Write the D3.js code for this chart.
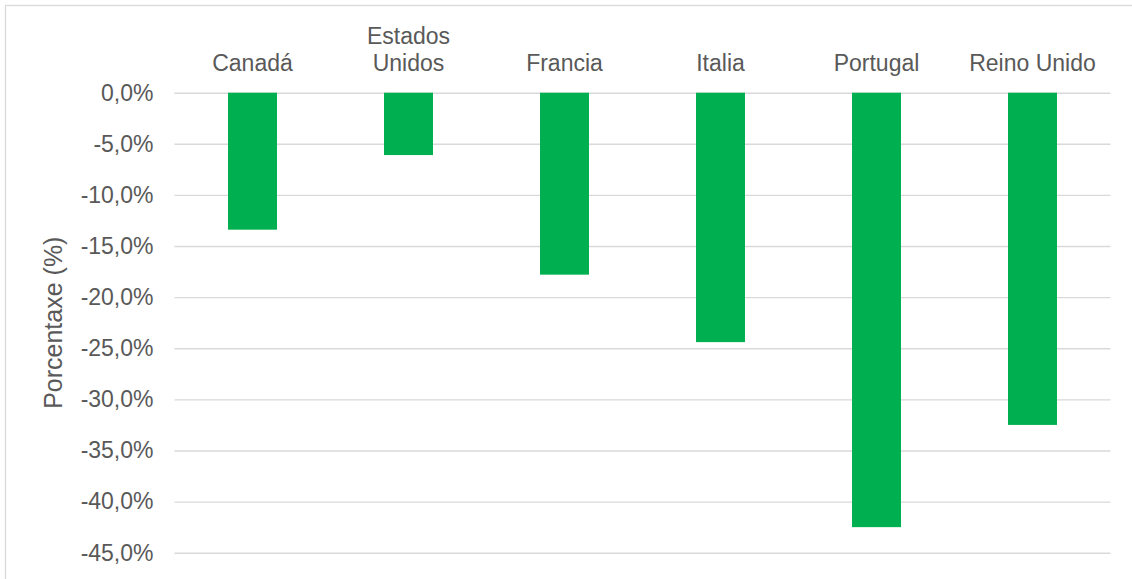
<!DOCTYPE html>
<html><head><meta charset="utf-8">
<script src="https://cdn.jsdelivr.net/npm/d3@7"></script>
<style>body{margin:0;background:#fff;} svg{display:block;}</style>
</head><body>
<svg id="c" width="1132" height="579"></svg>
<script>
const categories = ["Canadá", "Estados Unidos", "Francia", "Italia", "Portugal", "Reino Unido"];
const categoryLines = [["Canadá"], ["Estados", "Unidos"], ["Francia"], ["Italia"], ["Portugal"], ["Reino Unido"]];
const values = [-13.4, -6.1, -17.8, -24.4, -42.5, -32.5];
const yTicks = [0, -5, -10, -15, -20, -25, -30, -35, -40, -45];
const yTitle = "Porcentaxe (%)";

const svg = d3.select("#c");
const font = "'Liberation Sans', Arial, sans-serif";
const textColor = "#595959";
const fs = 23;
const pLeft = 174.5, pRight = 1110.5, pTop = 92.7, pBottom = 552.7;

svg.append("rect").attr("x", 5.5).attr("y", 5.5).attr("width", 1140).attr("height", 600)
  .attr("fill", "none").attr("stroke", "#d9d9d9").attr("stroke-width", 1.3);

const x = d3.scaleBand().domain(categories).range([pLeft, pRight]).paddingInner(0.686).paddingOuter(0.343);
const y = d3.scaleLinear().domain([0, -45]).range([pTop, pBottom]);

const yAxis = d3.axisLeft(y).tickValues(yTicks).tickSize(-(pRight - pLeft)).tickPadding(21)
  .tickFormat(d => d3.format(".1f")(d).replace(".", ",").replace("−", "-") + "%");
const gy = svg.append("g").attr("transform", `translate(${pLeft},0)`).call(yAxis);
gy.select(".domain").remove();
gy.selectAll(".tick line").attr("stroke", "#d9d9d9").attr("stroke-width", 1.4);
gy.selectAll(".tick text").attr("fill", textColor).attr("font-family", font).attr("font-size", fs);

svg.append("g").selectAll("rect").data(values).join("rect")
  .attr("x", (d, i) => x(categories[i]))
  .attr("width", x.bandwidth())
  .attr("y", d => y(Math.max(0, d)))
  .attr("height", d => Math.abs(y(d) - y(0)))
  .attr("fill", "#00b050");

const labels = svg.append("g");
categoryLines.forEach((lines, i) => {
  const cx = x(categories[i]) + x.bandwidth() / 2;
  const t = labels.append("text").attr("text-anchor", "middle").attr("fill", textColor)
    .attr("font-family", font).attr("font-size", fs);
  lines.forEach((ln, j) => {
    t.append("tspan").attr("x", cx).attr("y", 71 - (lines.length - 1 - j) * 27).text(ln);
  });
});

svg.append("text").attr("transform", `translate(62,${(pTop + pBottom) / 2}) rotate(-90)`)
  .attr("text-anchor", "middle").attr("fill", textColor).attr("font-family", font)
  .attr("font-size", 25).text(yTitle);
</script>
</body></html>
